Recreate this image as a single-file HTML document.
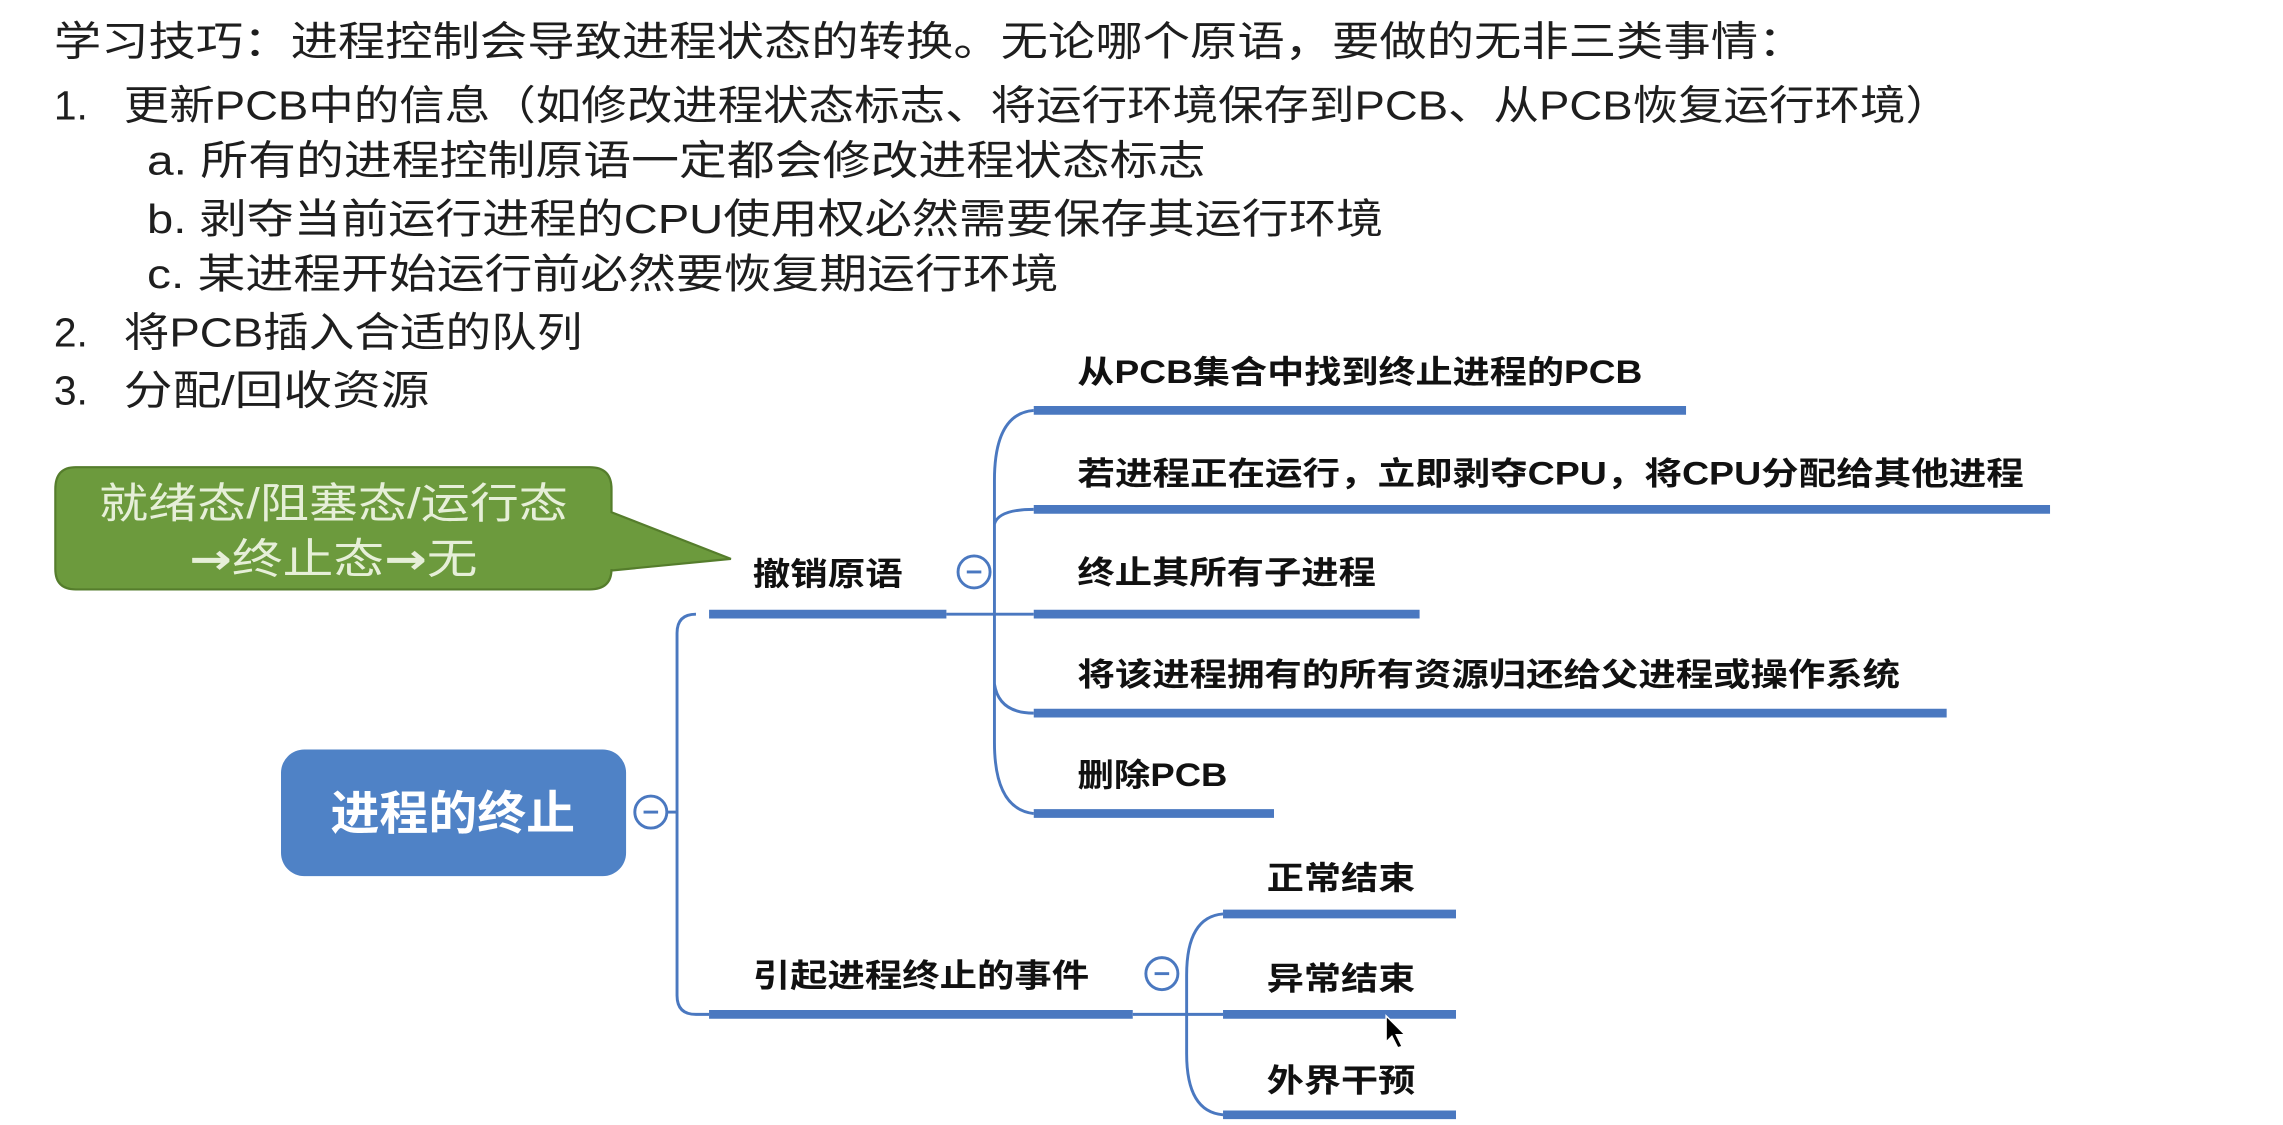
<!DOCTYPE html>
<html><head><meta charset="utf-8"><style>
html,body{margin:0;padding:0;background:#fff;width:2283px;height:1125px;overflow:hidden}
svg{display:block}
.t{font-family:"Liberation Sans","Noto Sans CJK SC",sans-serif;font-size:28px;fill:#1e1e1e}
.b{font-family:"Liberation Sans","Noto Sans CJK SC",sans-serif;font-size:22px;font-weight:bold;fill:#111}
</style></head><body>
<svg width="2283" height="1125" viewBox="0 0 1568 773" preserveAspectRatio="none">
<g class="t">
<text x="37" y="38" textLength="1203" lengthAdjust="spacingAndGlyphs">学习技巧：进程控制会导致进程状态的转换。无论哪个原语，要做的无非三类事情：</text>
<text x="37" y="82">1.</text>
<text x="85" y="82" textLength="1255" lengthAdjust="spacingAndGlyphs">更新PCB中的信息（如修改进程状态标志、将运行环境保存到PCB、从PCB恢复运行环境）</text>
<text x="101" y="120" textLength="727" lengthAdjust="spacingAndGlyphs">a. 所有的进程控制原语一定都会修改进程状态标志</text>
<text x="101" y="160" textLength="849" lengthAdjust="spacingAndGlyphs">b. 剥夺当前运行进程的CPU使用权必然需要保存其运行环境</text>
<text x="101" y="198" textLength="626" lengthAdjust="spacingAndGlyphs">c. 某进程开始运行前必然要恢复期运行环境</text>
<text x="37" y="238">2.</text>
<text x="85" y="238" textLength="315" lengthAdjust="spacingAndGlyphs">将PCB插入合适的队列</text>
<text x="37" y="278">3.</text>
<text x="85" y="278" textLength="210" lengthAdjust="spacingAndGlyphs">分配/回收资源</text>
</g>
<path d="M52,321 H405 Q420,321 420,336 V352 L502,384 L420,392 V391 Q420,405 405,405 H52 Q38,405 38,391 V336 Q38,321 52,321 Z" fill="#6c9a3d" stroke="#557d2c" stroke-width="1.5"/>
<text x="229" y="356" text-anchor="middle" font-family="Liberation Sans,Noto Sans CJK SC,sans-serif" font-size="29" fill="#e6efd8" textLength="322" lengthAdjust="spacingAndGlyphs">就绪态/阻塞态/运行态</text>
<text x="229" y="394" text-anchor="middle" font-family="DejaVu Sans,Noto Sans CJK SC,sans-serif" font-size="29" fill="#e6efd8" textLength="198" lengthAdjust="spacingAndGlyphs"><tspan font-weight="bold">→</tspan>终止态<tspan font-weight="bold">→</tspan>无</text>
<rect x="193" y="515" width="237" height="87" rx="16" fill="#4f82c6"/>
<text x="311" y="570" text-anchor="middle" font-family="Liberation Sans,Noto Sans CJK SC,sans-serif" font-size="32" font-weight="bold" fill="#fff" textLength="168" lengthAdjust="spacingAndGlyphs">进程的终止</text>
<g fill="none" stroke="#4a78c0" stroke-width="2">
<circle cx="447" cy="558" r="11" fill="#fff"/>
<path d="M458,558 H465"/>
<path d="M478,422 Q465,422 465,435 V684 Q465,697 478,697 H487"/>
<circle cx="669" cy="393" r="11" fill="#fff"/>
<path d="M650,422 H710"/>
<path d="M710,282 Q683,284 683,330 V510 Q683,556 710,559"/>
<path d="M683,360 Q686,350 710,350"/>
<path d="M683,470 Q686,490 710,490"/>
<circle cx="798" cy="669" r="11" fill="#fff"/>
<path d="M778,697 H840"/>
<path d="M840,628 Q815,630 815,670 V724 Q815,764 840,766"/>
</g>
<g stroke="#4a78c0" stroke-width="6">
<path d="M487,422 H650"/>
<path d="M487,697 H778"/>
<path d="M710,282 H1158"/>
<path d="M710,350 H1408"/>
<path d="M710,422 H975"/>
<path d="M710,490 H1337"/>
<path d="M710,559 H875"/>
<path d="M840,628 H1000"/>
<path d="M840,697 H1000"/>
<path d="M840,766 H1000"/>
</g>
<g stroke="#4a78c0" stroke-width="2"><path d="M442,558 H452"/><path d="M664,393 H674"/><path d="M793,669 H803"/></g>
<g class="b">
<text x="517" y="402" textLength="103" lengthAdjust="spacingAndGlyphs">撤销原语</text>
<text x="517" y="678" textLength="231" lengthAdjust="spacingAndGlyphs">引起进程终止的事件</text>
<text x="740" y="263" textLength="388" lengthAdjust="spacingAndGlyphs">从PCB集合中找到终止进程的PCB</text>
<text x="740" y="333" textLength="650" lengthAdjust="spacingAndGlyphs">若进程正在运行，立即剥夺CPU，将CPU分配给其他进程</text>
<text x="740" y="401" textLength="205" lengthAdjust="spacingAndGlyphs">终止其所有子进程</text>
<text x="740" y="471" textLength="565" lengthAdjust="spacingAndGlyphs">将该进程拥有的所有资源归还给父进程或操作系统</text>
<text x="740" y="540" textLength="103" lengthAdjust="spacingAndGlyphs">删除PCB</text>
<text x="870" y="611" textLength="102" lengthAdjust="spacingAndGlyphs">正常结束</text>
<text x="870" y="680" textLength="102" lengthAdjust="spacingAndGlyphs">异常结束</text>
<text x="870" y="750" textLength="102" lengthAdjust="spacingAndGlyphs">外界干预</text>
</g>
<path d="M952,698 V716 L956,712 L960,720 L963,719 L959,711 L965,711 Z" fill="#000" stroke="#fff" stroke-width="1"/>
</svg>
</body></html>
